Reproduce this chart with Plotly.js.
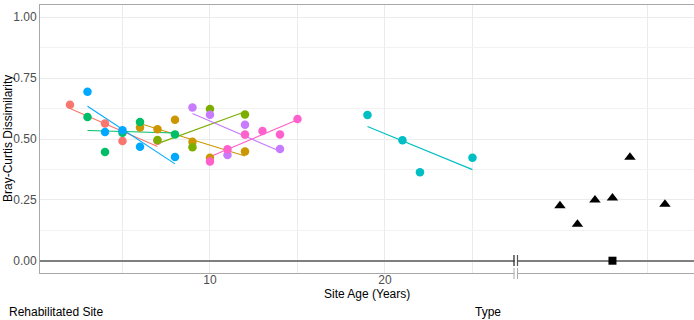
<!DOCTYPE html>
<html>
<head>
<meta charset="utf-8">
<script src="https://cdn.plot.ly/plotly-3.0.1.min.js"></script>
<style>html,body{margin:0;padding:0;background:#fff;}#chart{width:694px;height:320px;}</style>
</head>
<body>
<div id="chart"></div>
<script>
// Rehabilitated sites (colour per site): age in years and Bray-Curtis dissimilarity
const siteColors = ['#F8766D','#CD9600','#7CAE00','#00BE67','#00BFC4','#00A9FF','#C77CFF','#FF61CC'];
const redAge = [2, 4, 5, 7];
const redBC = [0.641, 0.564, 0.492, 0.493];
const goldAge = [6, 7, 8, 9, 10, 12];
const goldBC = [0.547, 0.540, 0.579, 0.489, 0.423, 0.449];
const oliveAge = [7, 9, 10, 12];
const oliveBC = [0.496, 0.466, 0.623, 0.601];
const greenAge = [3, 4, 5, 6, 8];
const greenBC = [0.590, 0.447, 0.526, 0.570, 0.519];
const tealAge = [19, 21, 22, 25];
const tealBC = [0.599, 0.495, 0.363, 0.423];
const blueAge = [3, 4, 5, 6, 8];
const blueBC = [0.694, 0.529, 0.536, 0.468, 0.426];
const purpleAge = [9, 10, 11, 12, 14];
const purpleBC = [0.629, 0.600, 0.434, 0.559, 0.459];
const pinkAge = [10, 11, 12, 13, 14, 15];
const pinkBC = [0.408, 0.458, 0.518, 0.533, 0.519, 0.582];

// Reference sites ("Type" panel)
const refTypeX = [30, 31, 32, 33, 34, 36];
const refTypeBC = [0.226, 0.150, 0.249, 0.258, 0.425, 0.232];
const controlX = [33];
const controlBC = [0.0];

const xTickVals = [10, 20];
const xTickText = ['10', '20'];
const yTickVals = [0, 0.25, 0.5, 0.75, 1.0];
const yTickText = ['0.00', '0.25', '0.50', '0.75', '1.00'];

const sites = [
  [redAge, redBC], [goldAge, goldBC], [oliveAge, oliveBC], [greenAge, greenBC],
  [tealAge, tealBC], [blueAge, blueBC], [purpleAge, purpleBC], [pinkAge, pinkBC]
];

function fit(xs, ys) {
  const n = xs.length;
  const mx = xs.reduce((a, b) => a + b, 0) / n;
  const my = ys.reduce((a, b) => a + b, 0) / n;
  let sxy = 0, sxx = 0;
  for (let i = 0; i < n; i++) { sxy += (xs[i] - mx) * (ys[i] - my); sxx += (xs[i] - mx) ** 2; }
  const b = sxy / sxx;
  const x0 = Math.min(...xs), x1 = Math.max(...xs);
  return { x: [x0, x1], y: [my + b * (x0 - mx), my + b * (x1 - mx)] };
}

const traces = [];
sites.forEach((s, i) => {
  const f = fit(s[0], s[1]);
  traces.push({ x: f.x, y: f.y, type: 'scatter', mode: 'lines',
    line: { color: siteColors[i], width: 1.1 }, hoverinfo: 'skip', showlegend: false });
});
sites.forEach((s, i) => {
  traces.push({ x: s[0], y: s[1], type: 'scatter', mode: 'markers',
    marker: { color: siteColors[i], size: 8.5 }, showlegend: false });
});
traces.push({ x: refTypeX, y: refTypeBC, type: 'scatter', mode: 'markers',
  marker: { color: '#000', size: 10, symbol: 'triangle-up' }, showlegend: false });
traces.push({ x: controlX, y: controlBC, type: 'scatter', mode: 'markers',
  marker: { color: '#000', size: 8, symbol: 'square' }, showlegend: false });

const W = 654, H = 268, L = 40, T = 5;
const px = v => (v - L) / W;
const py = v => (T + H - v) / H;
const bx1 = px(514), bx2 = px(517.5);

const shapes = [
  { type: 'rect', xref: 'paper', yref: 'paper', x0: px(514.5), x1: px(517), y0: py(264), y1: py(258), fillcolor: '#fff', line: { width: 0 }, layer: 'above' },
  { type: 'rect', xref: 'paper', yref: 'paper', x0: px(514.5), x1: px(517), y0: py(275), y1: py(271), fillcolor: '#fff', line: { width: 0 }, layer: 'above' },
  { type: 'line', xref: 'paper', yref: 'paper', x0: bx1, x1: bx1, y0: py(266), y1: py(255), line: { color: '#222', width: 1.2 }, layer: 'above' },
  { type: 'line', xref: 'paper', yref: 'paper', x0: bx2, x1: bx2, y0: py(266), y1: py(255), line: { color: '#555', width: 1.2 }, layer: 'above' },
  { type: 'line', xref: 'paper', yref: 'paper', x0: bx1, x1: bx1, y0: py(279), y1: py(268), line: { color: '#aaa', width: 1 }, layer: 'above' },
  { type: 'line', xref: 'paper', yref: 'paper', x0: bx2, x1: bx2, y0: py(279), y1: py(268), line: { color: '#aaa', width: 1 }, layer: 'above' }
];

const font = { family: 'Liberation Sans, Arial, sans-serif', size: 12, color: '#000' };
const annotations = [
  { text: 'Site Age (Years)', xref: 'paper', yref: 'paper', x: 0.5, y: py(293.5), xanchor: 'center', yanchor: 'middle', showarrow: false, font: font },
  { text: 'Bray-Curtis Dissimilarity', xref: 'paper', yref: 'paper', x: px(8), y: 0.5, xanchor: 'center', yanchor: 'middle', textangle: -90, showarrow: false, font: font },
  { text: 'Rehabilitated Site', xref: 'paper', yref: 'paper', x: px(7), y: py(311.7), xanchor: 'left', yanchor: 'middle', showarrow: false, font: font },
  { text: 'Type', xref: 'paper', yref: 'paper', x: px(472.7), y: py(311.7), xanchor: 'left', yanchor: 'middle', showarrow: false, font: font }
];

const layout = {
  width: 694, height: 320,
  margin: { l: L, r: 0, t: T, b: 320 - T - H, pad: 0 },
  paper_bgcolor: '#fff', plot_bgcolor: '#fff',
  showlegend: false,
  font: font,
  xaxis: {
    range: [0.286, 37.66], tickmode: 'array', tickvals: xTickVals, ticktext: xTickText,
    showgrid: true, gridcolor: '#ebebeb', gridwidth: 1,
    minor: { tickmode: 'array', tickvals: [5, 15, 25, 35], showgrid: true, gridcolor: '#ebebeb', gridwidth: 1 },
    zeroline: false, showline: true, linecolor: '#a8a8a8', linewidth: 1, mirror: true,
    ticks: '', ticklabelstandoff: -4,
    tickfont: { family: 'Liberation Sans, Arial, sans-serif', size: 12, color: '#4d4d4d' }
  },
  yaxis: {
    range: [-0.0505, 1.0505], tickmode: 'array', tickvals: yTickVals, ticktext: yTickText,
    showgrid: true, gridcolor: '#ebebeb', gridwidth: 1,
    minor: { tickmode: 'array', tickvals: [0.125, 0.375, 0.625, 0.875], showgrid: true, gridcolor: '#f2f2f2', gridwidth: 1 },
    zeroline: true, zerolinecolor: '#7f7f7f', zerolinewidth: 2,
    showline: true, linecolor: '#a8a8a8', linewidth: 1, mirror: false,
    ticks: '', tickfont: { family: 'Liberation Sans, Arial, sans-serif', size: 12, color: '#4d4d4d' }
  },
  shapes: shapes,
  annotations: annotations
};

Plotly.newPlot('chart', traces, layout, { displayModeBar: false, staticPlot: true });
</script>
</body>
</html>
